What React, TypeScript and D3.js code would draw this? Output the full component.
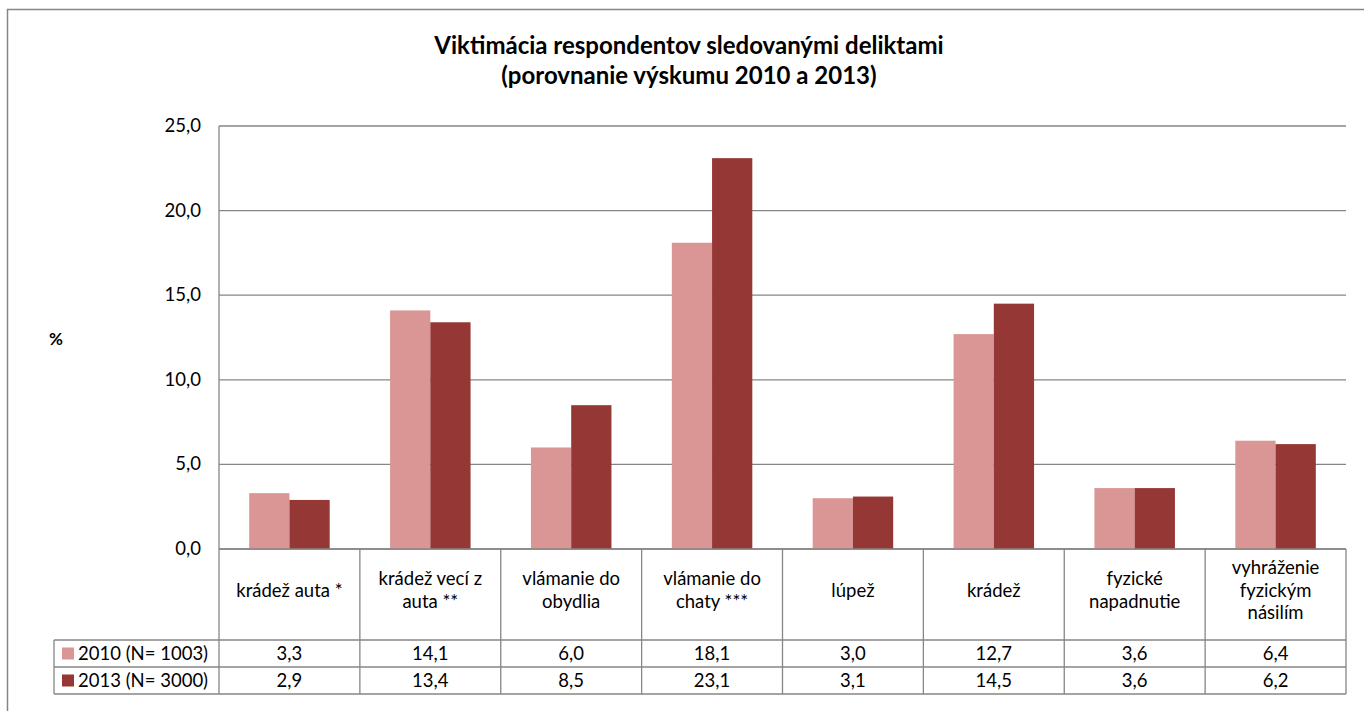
import React, { useEffect, useRef } from 'react';
import * as d3 from 'd3';

const categories = [
  ['krádež auta *'],
  ['krádež vecí z', 'auta **'],
  ['vlámanie do', 'obydlia'],
  ['vlámanie do', 'chaty ***'],
  ['lúpež'],
  ['krádež'],
  ['fyzické', 'napadnutie'],
  ['vyhráženie', 'fyzickým', 'násilím'],
];
const seriesNames = ['2010 (N= 1003)', '2013 (N= 3000)'];
const values2010 = [3.3, 14.1, 6.0, 18.1, 3.0, 12.7, 3.6, 6.4];
const values2013 = [2.9, 13.4, 8.5, 23.1, 3.1, 14.5, 3.6, 6.2];
const yTicks = [0, 5, 10, 15, 20, 25];
const colors = ['#D99694', '#953735'];

const WIDTH = 1364;
const HEIGHT = 711;
const FONT = "Lato, 'Open Sans', sans-serif";
const GRID = '#868686';
const BODY = '18.5px';

export default function App() {
  const ref = useRef<SVGGElement | null>(null);

  useEffect(() => {
    const g = d3.select(ref.current);
    g.selectAll('*').remove();

    const left = 219;
    const right = 1346;
    const top = 126;
    const bottom = 549;
    const labelRowBottom = 640;
    const rowH = 27;
    const headerLeft = 54;

    const catKeys = categories.map((c, i) => String(i));
    const x = d3.scaleBand().domain(catKeys).range([left, right]).padding(0);
    const bw = x.bandwidth();
    const gap = (bw / 3.5) * 0.75;
    const x1 = d3.scaleBand().domain(['0', '1']).range([gap, bw - gap]).padding(0);
    const y = d3.scaleLinear().domain([0, 25]).range([bottom, top]);
    const fmt = (v: number) => d3.format('.1f')(v).replace('.', ',');

    // outer border
    g.append('rect')
      .attr('x', 7.5)
      .attr('y', 9.5)
      .attr('width', WIDTH + 20)
      .attr('height', HEIGHT + 20)
      .attr('fill', 'none')
      .attr('stroke', GRID)
      .attr('stroke-width', 1.5);

    // title
    g.append('text')
      .attr('x', 689)
      .attr('y', 54)
      .attr('text-anchor', 'middle')
      .style('font-family', FONT)
      .style('font-size', '24px')
      .style('font-weight', 'bold')
      .text('Viktimácia respondentov sledovanými deliktami');
    g.append('text')
      .attr('x', 689)
      .attr('y', 84)
      .attr('text-anchor', 'middle')
      .style('font-family', FONT)
      .style('font-size', '24px')
      .style('font-weight', 'bold')
      .text('(porovnanie výskumu 2010 a 2013)');

    // gridlines + y labels
    g.selectAll('.grid')
      .data(yTicks)
      .join('line')
      .attr('class', 'grid')
      .attr('x1', left)
      .attr('x2', right)
      .attr('y1', (d) => y(d))
      .attr('y2', (d) => y(d))
      .attr('stroke', GRID)
      .attr('stroke-width', 1.3);

    g.selectAll('.ylab')
      .data(yTicks)
      .join('text')
      .attr('class', 'ylab')
      .attr('x', 201)
      .attr('y', (d) => y(d) + 6)
      .attr('text-anchor', 'end')
      .style('font-family', FONT)
      .style('font-size', BODY)
      .text((d) => fmt(d));

    g.append('text')
      .attr('x', 56)
      .attr('y', 345)
      .attr('text-anchor', 'middle')
      .style('font-family', FONT)
      .style('font-size', '17px')
      .style('font-weight', 'bold')
      .text('%');

    // bars
    const series = [values2010, values2013];
    series.forEach((vals, si) => {
      g.selectAll(`.bar${si}`)
        .data(vals)
        .join('rect')
        .attr('class', `bar${si}`)
        .attr('x', (d, i) => (x(String(i)) as number) + (x1(String(si)) as number))
        .attr('y', (d) => y(d))
        .attr('width', x1.bandwidth())
        .attr('height', (d) => y(0) - y(d))
        .attr('fill', colors[si]);
    });

    // y axis line
    g.append('line')
      .attr('x1', left)
      .attr('x2', left)
      .attr('y1', top)
      .attr('y2', bottom)
      .attr('stroke', GRID)
      .attr('stroke-width', 1.3);

    // table lines
    const tableBottom = labelRowBottom + rowH * 2;
    const lines: [number, number, number, number][] = [];
    lines.push([left, bottom, right, bottom]);
    lines.push([headerLeft, labelRowBottom, right, labelRowBottom]);
    lines.push([headerLeft, labelRowBottom + rowH, right, labelRowBottom + rowH]);
    lines.push([headerLeft, tableBottom, right, tableBottom]);
    lines.push([headerLeft, labelRowBottom, headerLeft, tableBottom]);
    catKeys.forEach((k) => {
      const xx = x(k) as number;
      lines.push([xx, bottom, xx, tableBottom]);
    });
    lines.push([right, bottom, right, tableBottom]);
    g.selectAll('.tline')
      .data(lines)
      .join('line')
      .attr('class', 'tline')
      .attr('x1', (d) => d[0])
      .attr('y1', (d) => d[1])
      .attr('x2', (d) => d[2])
      .attr('y2', (d) => d[3])
      .attr('stroke', GRID)
      .attr('stroke-width', 1.3);

    // category labels
    const lineH = 22.5;
    const midLabel = (bottom + labelRowBottom) / 2 - 4;
    categories.forEach((lns, i) => {
      const cx = (x(String(i)) as number) + bw / 2;
      const start = midLabel - ((lns.length - 1) * lineH) / 2;
      lns.forEach((t, j) => {
        g.append('text')
          .attr('x', cx)
          .attr('y', start + j * lineH + 6)
          .attr('text-anchor', 'middle')
          .style('font-family', FONT)
          .style('font-size', BODY)
          .text(t);
      });
    });

    // data rows
    series.forEach((vals, si) => {
      const rowMid = labelRowBottom + rowH * si + rowH / 2;
      g.append('rect')
        .attr('x', 62)
        .attr('y', rowMid - 6)
        .attr('width', 12)
        .attr('height', 12)
        .attr('fill', colors[si]);
      g.append('text')
        .attr('x', 78)
        .attr('y', rowMid + 6.5)
        .style('font-family', FONT)
        .style('font-size', BODY)
        .text(seriesNames[si]);
      g.selectAll(`.val${si}`)
        .data(vals)
        .join('text')
        .attr('class', `val${si}`)
        .attr('x', (d, i) => (x(String(i)) as number) + bw / 2)
        .attr('y', rowMid + 6.5)
        .attr('text-anchor', 'middle')
        .style('font-family', FONT)
        .style('font-size', BODY)
        .text((d) => fmt(d));
    });
  }, []);

  return (
    <svg
      width={WIDTH}
      height={HEIGHT}
      style={{ position: 'absolute', left: 0, top: 0, background: '#fff' }}
    >
      <g ref={ref} />
    </svg>
  );
}
